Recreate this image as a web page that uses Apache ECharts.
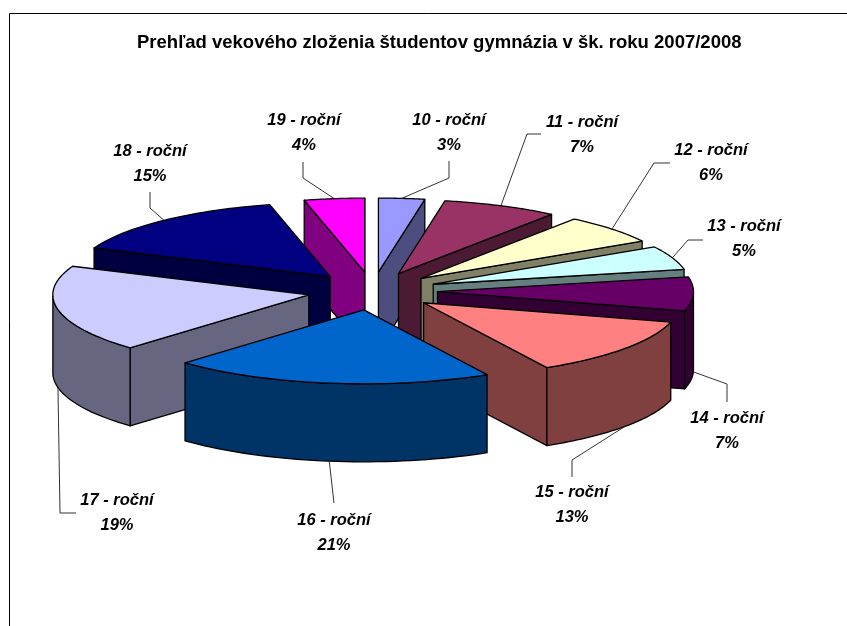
<!DOCTYPE html>
<html>
<head>
<meta charset="utf-8">
<style>html,body{margin:0;padding:0;background:#fff}#c{width:847px;height:626px}</style>
<script src="https://cdn.jsdelivr.net/npm/echarts@6/dist/echarts.min.js"></script>
</head>
<body>
<div id="c"></div>
<script>
var titleText = 'Prehľad vekového zloženia študentov gymnázia v šk. roku 2007/2008';
var categories = ['10 - roční','11 - roční','12 - roční','13 - roční','14 - roční','15 - roční','16 - roční','17 - roční','18 - roční','19 - roční'];
var shares = [2.9, 7.3, 6.4, 5.2, 7.4, 12.8, 20.3, 19.0, 14.9, 3.8];
var percentLabels = ['3%','7%','6%','5%','7%','13%','21%','19%','15%','4%'];
var colors = ['#9999FF','#993366','#FFFFCC','#CCFFFF','#660066','#FF8080','#0066CC','#CCCCFF','#000080','#FF00FF'];

// Layout of the pseudo-3D pie: not data.
var pie = {cx: 372.5, cy: 291, rx: 256, ry: 74, depth: 78, explodeX: 65, explodeY: 19};
// Label text centres and the leader elbow / end for each category.
var labelLayout = [
  {x:449, y:120, line:[[449,178],[449,161]]},
  {x:582, y:122, line:[[527,134],[541,134]]},
  {x:711, y:150, line:[[654,163],[670,163]]},
  {x:744, y:226, line:[[688,240],[703,240]]},
  {x:727, y:418, line:[[727,384],[727,402]]},
  {x:572, y:492, line:[[572,460],[572,477]]},
  {x:334, y:520, line:[[334,503]]},
  {x:117, y:500, line:[[60,513],[76,513]]},
  {x:150, y:151, line:[[150,208],[150,192]]},
  {x:304, y:120, line:[[303,178],[303,162]]}
];

var total = shares.reduce(function(a,b){return a+b;},0);
var starts = [], cum = 0;
shares.forEach(function(v){ starts.push(cum/total*Math.PI*2); cum += v; });
function midOf(i){ return starts[i] + shares[i]/total*Math.PI; }
function tip(i){
  var m = midOf(i);
  return [pie.cx + pie.explodeX*Math.sin(m), pie.cy - pie.explodeY*Math.cos(m)];
}
function rimPoint(i,t,down){
  var p = tip(i);
  return [p[0] + pie.rx*Math.sin(t), p[1] - pie.ry*Math.cos(t) + (down?pie.depth:0)];
}
function halve(hex){
  var n = parseInt(hex.slice(1),16);
  var r=(n>>16)&255, g=(n>>8)&255, b=n&255;
  return 'rgb('+Math.round(r/2)+','+Math.round(g/2)+','+Math.round(b/2)+')';
}
var order = shares.map(function(_,i){return i;}).sort(function(a,b){return tip(a)[1]-tip(b)[1];});

function renderSlice(params, api){
  var i = params.dataIndex;
  var value = api.value(0);
  var a0 = starts[i], a1 = a0 + value/total*Math.PI*2;
  var T = tip(i), Tb = [T[0], T[1]+pie.depth];
  var z = (order.indexOf(i)+1)*10;
  var steps = 40, arcTop = [], k, t;
  for(k=0;k<=steps;k++){ t=a0+(a1-a0)*k/steps; arcTop.push(rimPoint(i,t,false)); }
  var kids = [];
  function poly(points, fill, zz){
    kids.push({type:'polygon', z2:z+zz, shape:{points:points},
      style:{fill:fill, stroke:'#000', lineWidth:1.3, lineJoin:'round'}});
  }
  var wall = halve(colors[i]);
  // cut faces, only when they face the viewer
  if(Math.sin(a1) > 0){ poly([T, rimPoint(i,a1,false), rimPoint(i,a1,true), Tb], wall, 0); }
  if(Math.sin(a0) < 0){ poly([T, rimPoint(i,a0,false), rimPoint(i,a0,true), Tb], wall, 0); }
  // outer wall, front half only
  var wt=[], wb=[];
  for(k=0;k<=steps;k++){
    t=a0+(a1-a0)*k/steps;
    if(Math.cos(t) <= 0.0){ wt.push(rimPoint(i,t,false)); wb.unshift(rimPoint(i,t,true)); }
  }
  if(wt.length>1){ poly(wt.concat(wb), wall, 1); }
  poly([T].concat(arcTop), colors[i], 2);
  // leader line and label
  var m = midOf(i), anchor = rimPoint(i,m,Math.cos(m)<0);
  var L = labelLayout[i];
  kids.push({type:'polyline', z2:500, shape:{points:[anchor].concat(L.line)},
    style:{fill:null, stroke:'#333', lineWidth:1}});
  var font = 'italic bold 16.5px "Liberation Sans", Arial, sans-serif';
  kids.push({type:'text', z2:510, style:{text:categories[i], x:L.x, y:L.y, font:font, fill:'#000', align:'center', verticalAlign:'middle'}});
  kids.push({type:'text', z2:510, style:{text:percentLabels[i], x:L.x, y:L.y+25, font:font, fill:'#000', align:'center', verticalAlign:'middle'}});
  return {type:'group', children:kids};
}

var chart = echarts.init(document.getElementById('c'), null, {renderer:'canvas'});
chart.setOption({
  animation:false,
  backgroundColor:'#fff',
  title:{text:titleText, left:132, top:28,
    textStyle:{fontFamily:'"Liberation Sans", Arial, sans-serif', fontWeight:'bold', fontSize:18.5, color:'#000'}},
  graphic:[{type:'rect', silent:true, shape:{x:9.5,y:13.5,width:900,height:700}, style:{fill:null, stroke:'#000', lineWidth:1}}],
  series:[{
    type:'custom', coordinateSystem:'none', silent:true, clip:false,
    data:shares.map(function(v,i){return {name:categories[i], value:[v]};}),
    renderItem:renderSlice
  }]
});
</script>
</body>
</html>
